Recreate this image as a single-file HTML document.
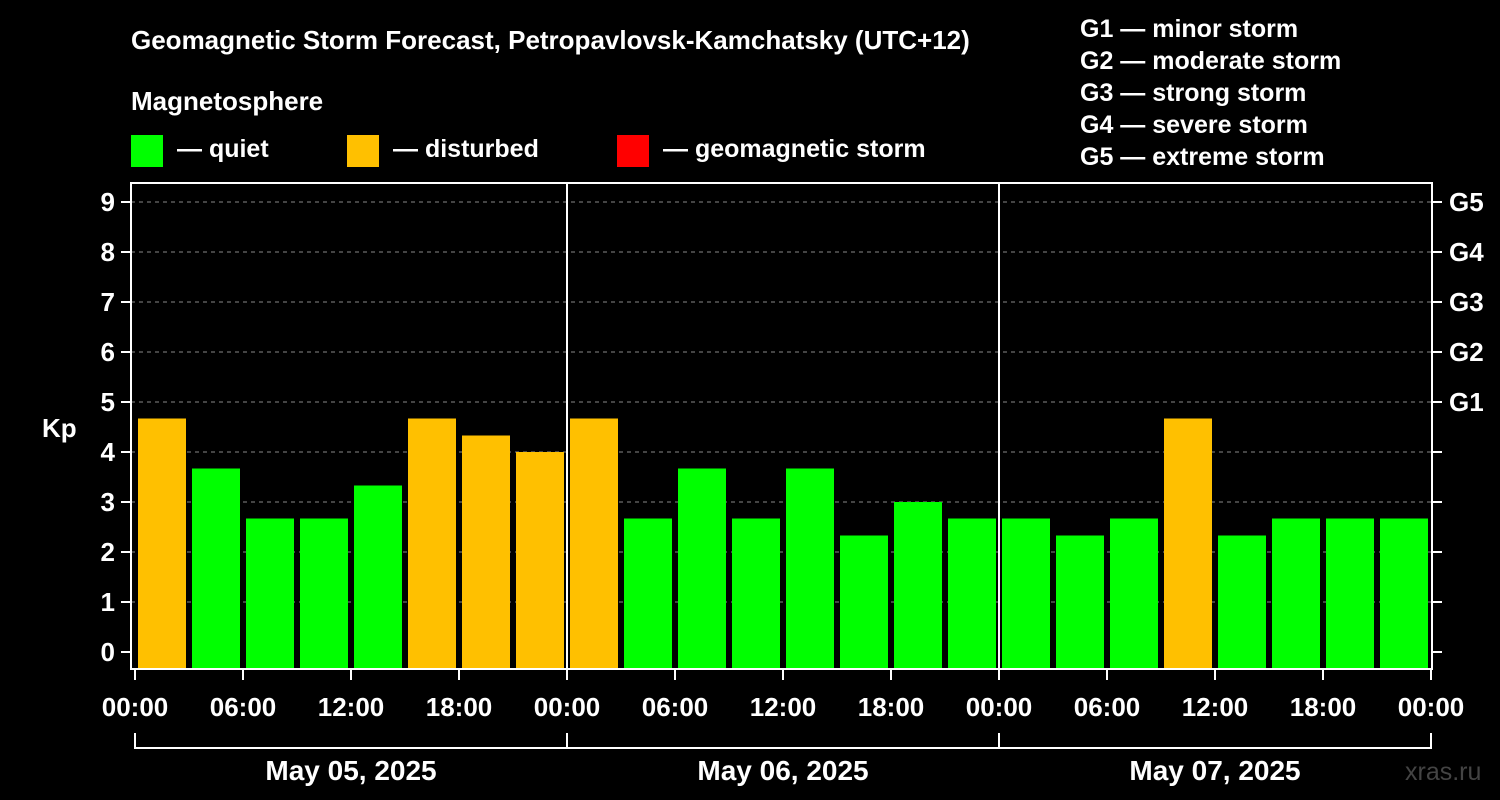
<!DOCTYPE html>
<html><head><meta charset="utf-8"><style>
body{margin:0;background:#000;}
svg{display:block;font-family:"Liberation Sans",Arial,sans-serif;font-weight:bold;}
</style></head><body>
<svg id="chart" width="1500" height="800" viewBox="0 0 1500 800">
<rect width="1500" height="800" fill="#000"/>
<text x="131" y="49" font-size="26" fill="#fff">Geomagnetic Storm Forecast, Petropavlovsk-Kamchatsky (UTC+12)</text>
<text x="131" y="110" font-size="26" fill="#fff">Magnetosphere</text>
<g><rect x="131" y="135" width="32" height="32" fill="#00ff00"/><text x="177" y="157" font-size="25" fill="#fff">— quiet</text></g>
<g><rect x="347" y="135" width="32" height="32" fill="#ffc000"/><text x="393" y="157" font-size="25" fill="#fff">— disturbed</text></g>
<g><rect x="617" y="135" width="32" height="32" fill="#ff0000"/><text x="663" y="157" font-size="25" fill="#fff">— geomagnetic storm</text></g>
<g font-size="25" fill="#fff">
<text x="1080" y="37">G1 — minor storm</text>
<text x="1080" y="69">G2 — moderate storm</text>
<text x="1080" y="101">G3 — strong storm</text>
<text x="1080" y="133">G4 — severe storm</text>
<text x="1080" y="165">G5 — extreme storm</text>
</g>
<text x="42" y="437" font-size="26" fill="#fff">Kp</text>
<text x="1405" y="780" font-size="25" fill="#444" font-weight="normal">xras.ru</text>
<g id="plot"></g>
</svg>
<script>
const days = ["May 05, 2025","May 06, 2025","May 07, 2025"];
const kpValues = [4.67,3.67,2.67,2.67,3.33,4.67,4.33,4.0, 4.67,2.67,3.67,2.67,3.67,2.33,3.0,2.67, 2.67,2.33,2.67,4.67,2.33,2.67,2.67,2.67];
const yTicks = [0,1,2,3,4,5,6,7,8,9];
const gLabels = ["G1","G2","G3","G4","G5"];
const gLevels = [5,6,7,8,9];
const hourLabels = ["00:00","06:00","12:00","18:00"];

const NS="http://www.w3.org/2000/svg";
const g=document.getElementById('plot');
const X0=135, DAYW=432, SLOT=54, PL=131, PR=1432, PT=183, PB=669;
const x=h=>X0+h/24*DAYW;
const y=v=>652-v*50;
function el(t,a,p){const e=document.createElementNS(NS,t);for(const k in a)e.setAttribute(k,a[k]);(p||g).appendChild(e);return e;}
function txt(s,a){const e=el('text',a);e.textContent=s;return e;}
yTicks.forEach(v=>{
  const l=el('line',{x1:PL,x2:PR,y1:y(v),y2:y(v),stroke:'#888','stroke-dasharray':'4,4','stroke-width':1});
  
  
  if(v===0)l.setAttribute('stroke-opacity','0');
  const t=el('line',{x1:PL-10,x2:PL,y1:y(v),y2:y(v),stroke:'#fff','stroke-width':2});
  
  
  const rt=el('line',{x1:PR,x2:PR+10,y1:y(v),y2:y(v),stroke:'#fff','stroke-width':2});
  
  
  const lb=txt(String(v),{x:PL-16,y:y(v)+9,'text-anchor':'end','font-size':26,fill:'#fff'});
  
  
});
gLabels.forEach((s,i)=>{
  const lb=txt(s,{x:PR+17,y:y(gLevels[i])+9,'font-size':26,fill:'#fff'});
  
  
});
kpValues.forEach((v,i)=>{
  const c=v>=5?'#ff0000':(v>=4?'#ffc000':'#00ff00');
  const r=el('rect',{x:X0+i*SLOT+3,y:y(v),width:SLOT-6,height:PB-y(v),fill:c});
  
  
});
for(let d=1;d<days.length;d++){
  const l=el('line',{x1:x(24*d),x2:x(24*d),y1:PT,y2:PB,stroke:'#fff','stroke-width':2});
  
  
}
const fr=el('rect',{x:PL,y:PT,width:PR-PL,height:PB-PT,fill:'none',stroke:'#fff','stroke-width':2});


for(let d=0;d<=days.length;d++){
  for(let h=0;h<4;h++){
    if(d===days.length&&h>0)break;
    const xx=x(d*24+h*6);
    const t=el('line',{x1:xx,x2:xx,y1:PB,y2:PB+11,stroke:'#fff','stroke-width':2});
    
    
    const lb=txt(hourLabels[h],{x:xx,y:716,'text-anchor':'middle','font-size':26,fill:'#fff'});
    
    
  }
}
days.forEach((s,d)=>{
  const a=x(d*24), b=x(d*24+24);
  const p=el('path',{d:`M${a} 733V748H${b}V733`,fill:'none',stroke:'#fff','stroke-width':2});
  
  
  const lb=txt(s,{x:(a+b)/2,y:780,'text-anchor':'middle','font-size':28,fill:'#fff'});
  
  
});
</script>
</body></html>
